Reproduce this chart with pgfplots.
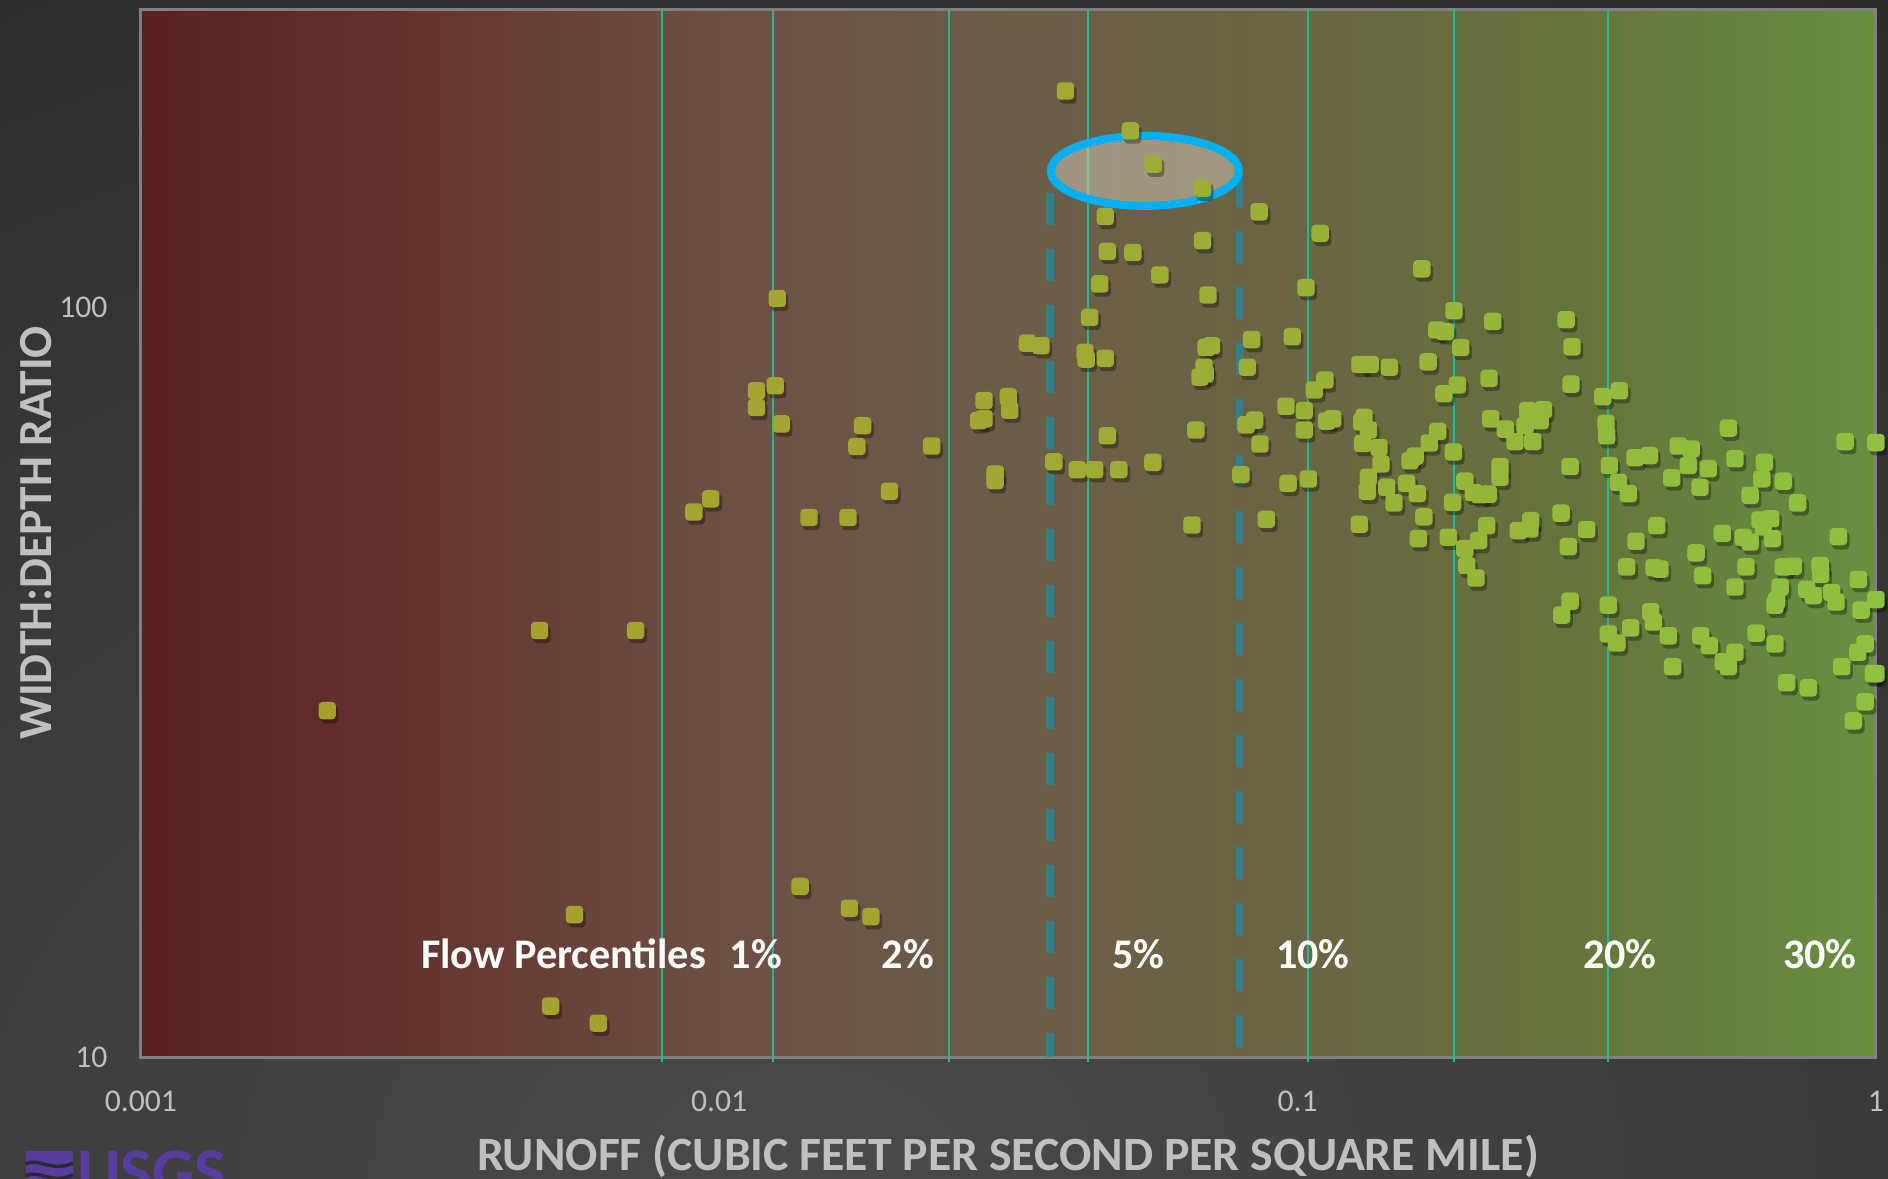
\documentclass[border=0pt]{standalone}
\usepackage{fontspec}
\setmainfont{Carlito}
\usepackage{pgfplots}
\pgfplotsset{compat=1.18}
\usepackage{pgfplotstable}

\definecolor{pagebg}{RGB}{42,42,42}
\definecolor{pagehi}{RGB}{74,74,74}
\definecolor{ticktext}{RGB}{192,192,192}
\definecolor{axisgrey}{RGB}{128,128,128}
\definecolor{gridteal}{RGB}{34,184,150}
\definecolor{dashteal}{RGB}{36,136,160}
\definecolor{ringblue}{RGB}{0,176,240}
\definecolor{ringfill}{RGB}{214,204,188}
\definecolor{usgs}{RGB}{88,60,160}

% red -> brown -> olive -> green plot background
% (TikZ maps the filled box onto the 25bp..75bp band of the shading)
\pgfdeclarehorizontalshading{plotbg}{100bp}{%
  rgb(0bp)=(0.353,0.122,0.129);
  rgb(25bp)=(0.353,0.122,0.129);
  rgb(33bp)=(0.392,0.204,0.184);
  rgb(41.5bp)=(0.424,0.310,0.263);
  rgb(49.5bp)=(0.420,0.361,0.282);
  rgb(58.5bp)=(0.416,0.396,0.259);
  rgb(66.5bp)=(0.396,0.455,0.235);
  rgb(75bp)=(0.408,0.561,0.251);
  rgb(100bp)=(0.408,0.561,0.251)}

% rounded square marker
\pgfdeclareplotmark{rsq}{%
  \pgfpathmoveto{\pgfpoint{-0.55\pgfplotmarksize}{-\pgfplotmarksize}}%
  \pgfpathlineto{\pgfpoint{0.55\pgfplotmarksize}{-\pgfplotmarksize}}%
  \pgfpatharc{-90}{0}{0.45\pgfplotmarksize}%
  \pgfpathlineto{\pgfpoint{\pgfplotmarksize}{0.55\pgfplotmarksize}}%
  \pgfpatharc{0}{90}{0.45\pgfplotmarksize}%
  \pgfpathlineto{\pgfpoint{-0.55\pgfplotmarksize}{\pgfplotmarksize}}%
  \pgfpatharc{90}{180}{0.45\pgfplotmarksize}%
  \pgfpathlineto{\pgfpoint{-\pgfplotmarksize}{-0.55\pgfplotmarksize}}%
  \pgfpatharc{180}{270}{0.45\pgfplotmarksize}%
  \pgfpathclose
  \pgfusepathqfill}

% runoff (cfs per sq mi) vs width:depth ratio
\pgfplotstableread{
x y
0.00210 29.0
0.00489 37.1
0.00717 37.1
0.00562 15.5
0.00511 11.7
0.00618 11.1
0.0138 16.9
0.0168 15.8
0.0183 15.4
0.00904 53.4
0.00967 55.6
0.0116 77.5
0.0116 73.6
0.0125 78.7
0.0128 70.0
0.0126 102.9
0.0143 52.5
0.0167 52.5
0.0173 65.3
0.0177 69.6
0.0197 56.9
0.0233 65.4
0.0287 75.2
0.0316 76.1
0.0318 73.0
0.0281 70.7
0.0287 71.1
0.0300 60.0
0.0300 58.8
0.0341 89.7
0.0360 89.0
0.0379 62.3
0.0397 194.7
0.0416 60.8
0.0446 60.8
0.0491 60.8
0.0562 62.2
0.0429 87.2
0.0431 85.4
0.0465 85.6
0.0437 97.1
0.0455 107.6
0.0469 118.9
0.0519 118.5
0.0465 132.4
0.0514 172.2
0.0563 155.5
0.0685 144.4
0.0578 110.6
0.0469 67.5
0.0657 51.3
0.0667 68.7
0.0685 122.9
0.0700 104.0
0.0689 83.3
0.0678 80.8
0.0692 81.6
0.0710 89.0
0.0695 88.5
0.0798 59.9
0.0819 83.3
0.0833 90.7
0.0815 69.8
0.0843 70.8
0.0858 134.3
0.0861 65.8
0.0883 52.2
0.0963 58.3
0.0955 73.9
0.0979 91.5
0.1034 106.4
0.1027 72.9
0.1027 68.7
0.1044 59.1
0.1069 77.7
0.1115 80.1
0.1094 125.7
0.1123 70.6
0.1150 71.1
0.1282 84.0
0.1335 84.0
0.1441 83.3
0.1303 71.4
0.1291 70.4
0.1326 68.7
0.1296 65.9
0.1383 65.1
0.1394 61.9
0.1326 59.4
0.1320 56.9
0.1426 57.6
0.1468 54.9
0.1279 51.4
0.1544 58.3
0.1611 56.5
0.1597 63.4
0.1565 62.5
0.1640 112.7
0.1682 84.7
0.1741 93.4
0.1799 92.9
0.1864 99.1
0.1915 88.5
0.1889 78.9
0.1791 76.8
0.1747 68.4
0.1690 66.0
0.1860 64.2
0.1854 55.0
0.1947 58.7
0.2014 56.7
0.2068 56.3
0.2137 56.4
0.2239 59.4
0.2239 61.4
0.1654 52.6
0.1618 49.2
0.1823 49.4
0.2124 51.2
0.1947 47.7
0.2057 48.9
0.1961 45.3
0.2035 43.6
0.2175 95.9
0.2143 80.5
0.2158 71.1
0.2287 68.9
0.2377 66.3
0.2551 66.3
0.2474 69.6
0.2627 70.7
0.2500 72.9
0.2661 73.1
0.2409 50.4
0.2530 52.0
0.2523 50.7
0.2913 96.4
0.2982 88.7
0.2970 79.1
0.2959 61.4
0.2855 53.2
0.2939 48.0
0.2959 40.6
0.2863 38.9
0.3370 76.1
0.3600 77.5
0.3415 70.1
0.3424 67.5
0.3459 61.6
0.3586 58.5
0.3732 56.5
0.3833 63.1
0.4057 63.5
0.4553 65.4
0.4791 64.8
0.4435 59.3
0.4739 61.6
0.5131 61.0
0.4964 57.6
0.5559 69.1
0.5707 62.9
0.6416 62.2
0.6349 59.1
0.6917 58.7
0.6060 56.2
0.7323 54.9
0.8845 66.3
1.0000 66.1
0.3162 50.6
0.4179 51.2
0.3848 48.8
0.5427 50.0
0.5900 49.4
0.6060 48.7
0.6306 52.1
0.6577 52.3
0.6389 51.0
0.6622 49.2
0.8610 49.5
0.4887 47.1
0.3707 45.1
0.4133 45.0
0.4233 44.8
0.5017 43.9
0.5962 45.1
0.6917 45.1
0.7197 45.2
0.8006 45.3
0.8028 44.1
0.9324 43.4
0.5707 42.4
0.6828 42.4
0.7593 42.1
0.7796 41.3
0.8387 41.7
0.8532 40.5
1.0000 40.8
0.9428 39.5
0.6692 40.1
0.6738 40.7
0.3446 40.1
0.4080 39.3
0.4123 38.1
0.3446 36.7
0.3565 35.7
0.3768 37.4
0.4377 36.5
0.4979 36.5
0.5153 35.4
0.6206 36.8
0.6692 35.6
0.5707 34.7
0.5445 33.7
0.5556 33.2
0.4452 33.2
0.9578 35.6
0.9302 34.7
0.8729 33.2
0.9900 32.5
1.0000 32.5
0.7010 31.6
0.7641 31.1
0.9578 29.8
0.9139 28.1
}\runoffdata

\begin{document}
\begin{tikzpicture}
% page background
\fill[pagebg] (0mm,0mm) rectangle (188.8mm,117.9mm);
\begin{scope}
  \clip (0mm,0mm) rectangle (188.8mm,117.9mm);
  \shade[inner color=pagehi, outer color=pagebg] (80mm,0mm) ellipse [x radius=210mm, y radius=150mm];
\end{scope}

\begin{axis}[
  at={(14.09mm,12.18mm)}, anchor=south west,
  width=173.5mm, height=104.76mm, scale only axis,
  xmode=log, ymode=log,
  xmin=0.001, xmax=1, ymin=10, ymax=250,
  clip=false,
  axis background/.style={shade, shading=plotbg},
  axis line style={draw=axisgrey, line width=0.3mm},
  xtick={0.001,0.01,0.1,1},
  xticklabels={{0.001},{0.01},{0.1},{1}},
  ytick={10,100},
  yticklabels={{10},{100}},
  xminorticks=false, yminorticks=false,
  major tick length=0pt,
  tick pos=left,
  tick align=outside,
  extra x ticks={0.00796,0.01241,0.02498,0.04342,0.1041,0.1863,0.3443},
  extra x tick labels={},
  extra x tick style={grid=major, major tick length=0.5mm,
    major grid style={draw=gridteal, line width=0.2mm},
    tick style={draw=gridteal, line width=0.2mm}},
  ticklabel style={font=\fontsize{9}{10}\selectfont, text=ticktext},
  xticklabel style={yshift=-2.15mm},
  yticklabel style={xshift=-2.1mm},
  colormap={markers}{rgb255(0cm)=(170,158,42); rgb255(1cm)=(160,168,50); rgb255(2cm)=(142,194,64)},
  point meta min=-6.9078, point meta max=0,
]
% soft shadow under the markers
\addplot[only marks, mark=rsq, mark size=0.87mm,
  mark options={draw=none, fill=black, fill opacity=0.32, xshift=0.25mm, yshift=-0.4mm}]
  table[x=x, y=y] {\runoffdata};
% stations
\addplot[scatter, only marks, mark=rsq, mark size=0.87mm,
  scatter/use mapped color={draw=none, fill=mapped color},
  point meta={ln(\thisrow{x})}]
  table[x=x, y=y] {\runoffdata};
% flow window bounds
\addplot[dashteal, opacity=0.8, line width=0.75mm, dash pattern=on 3.2mm off 2.4mm]
  coordinates {(0.03731,142.3) (0.03731,10)};
\addplot[dashteal, opacity=0.8, line width=0.75mm, dash pattern=on 3.2mm off 2.4mm]
  coordinates {(0.0793,150.4) (0.0793,10)};
% highlighted cluster
\draw[ringblue, line width=0.8mm, fill=ringfill, fill opacity=0.5]
  (axis cs:0.05445,152.3) ellipse [x radius=9.4mm, y radius=3.5mm];
% percentile labels
\begin{scope}[every node/.style={font=\bfseries\fontsize{12}{13}\selectfont, text=white, inner sep=0pt}]
\node[anchor=base west] at (axis cs:0.003044,13.14) {Flow Percentiles};
\node[anchor=base] at (axis cs:0.01157,13.14) {1\%};
\node[anchor=base] at (axis cs:0.0212,13.14) {2\%};
\node[anchor=base] at (axis cs:0.0531,13.14) {5\%};
\node[anchor=base] at (axis cs:0.1063,13.14) {10\%};
\node[anchor=base] at (axis cs:0.3607,13.14) {20\%};
\node[anchor=base] at (axis cs:0.800,13.14) {30\%};
\end{scope}
\end{axis}

% axis titles
\node[rotate=90, font=\bfseries\fontsize{13.5}{15}\selectfont, text=ticktext, inner sep=0pt]
  at (3.6mm,64.6mm) {WIDTH:DEPTH RATIO};
\node[anchor=base, font=\bfseries\fontsize{13.6}{15}\selectfont, text=ticktext, inner sep=0pt]
  at (100.8mm,0.8mm) {RUNOFF (CUBIC FEET PER SECOND PER SQUARE MILE)};

% logo
\fill[usgs] (2.55mm,-3mm) rectangle (7.3mm,2.75mm);
\draw[pagebg, line width=0.35mm] (2.55mm,1.5mm) .. controls (3.8mm,2.2mm) and (5.2mm,0.6mm) .. (7.3mm,1.6mm);
\draw[pagebg, line width=0.35mm] (2.55mm,0.3mm) .. controls (3.8mm,1.0mm) and (5.2mm,-0.6mm) .. (7.3mm,0.4mm);
\node[anchor=base west, font=\bfseries\fontsize{19}{20}\selectfont, text=usgs, inner sep=0pt]
  at (7.65mm,-1.6mm) {USGS};

\pgfresetboundingbox
\useasboundingbox (0mm,0mm) rectangle (188.8mm,117.9mm);
\end{tikzpicture}
\end{document}
